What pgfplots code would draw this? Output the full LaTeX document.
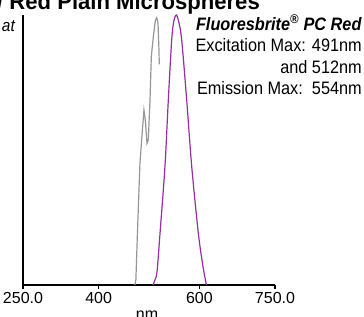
\documentclass[border=0pt]{standalone}
\usepackage{pgfplots}
\pgfplotsset{compat=1.18}
\usepackage{fontspec}
\setmainfont{Liberation Sans}[FakeStretch=0.905]
\newfontfamily\tickfont{Liberation Sans}
\newfontfamily\titlefont{Liberation Sans}[FakeStretch=0.96]
\definecolor{exc}{RGB}{150,150,150}
\definecolor{emi}{RGB}{150,45,160}
\begin{document}
\begin{tikzpicture}[x=1pt,y=1pt]
\path[use as bounding box] (0,0) rectangle (364,316);
\clip (0,0) rectangle (364,316);
\begin{axis}[
  at={(23pt,31pt)}, anchor=south west,
  scale only axis, width=252pt, height=270pt,
  xmin=250, xmax=750, ymin=0, ymax=100,
  axis x line=bottom, axis y line=left,
  axis line style={-, line width=1.1pt},
  xtick={250,400,600,750},
  xticklabels={250.0,400,600,750.0},
  ytick=\empty,
  xtick align=outside,
  major tick length=4pt,
  every tick/.style={black, line width=1.1pt},
  /pgf/number format/assume math mode=true,
  tick label style={font=\tickfont\fontsize{16}{16}\selectfont},
  xlabel={nm},
  xlabel style={font=\tickfont\fontsize{16}{16}\selectfont, xshift=-2pt},
  clip=false,
]
\addplot[exc, line width=1.2pt] coordinates {
(472,0)(474,2)(477,19)(482,45)(487.4,58.6)(490,64.8)(492.7,61)(496,52.5)(498.6,53.7)(502,68.5)(504.6,84.6)(508.6,92)(512.6,98)(515.3,99)(517.9,97)(519.8,87)(520.4,81.7)
};
\addplot[emi, line width=1.2pt, smooth] coordinates {
(508,0)(512,2)(516,5)(521.8,19)(531.7,44)(538.3,68.5)(545,90.7)(549,97.5)(554,100)(559,97.5)(564.9,90.7)(574.8,68.5)(584.7,44)(598,19)(607,7)(614,0)
};
\end{axis}
\node[anchor=base west, font=\titlefont\bfseries\fontsize{23}{23}\selectfont, inner sep=0pt] at (-3,306) {/ Red Plain Microspheres};
\node[anchor=base east, font=\itshape\fontsize{17}{17}\selectfont, inner sep=0pt] at (15,284) {at};
\node[anchor=north east, align=right, inner sep=0pt, font=\fontsize{18}{21.5}\selectfont] at (362,301)
{\textbf{\textit{Fluoresbrite\textsuperscript{®} PC Red}}\\
Excitation Max: 491nm\\
and 512nm\\
Emission Max:\ \ 554nm};
\end{tikzpicture}
\end{document}
